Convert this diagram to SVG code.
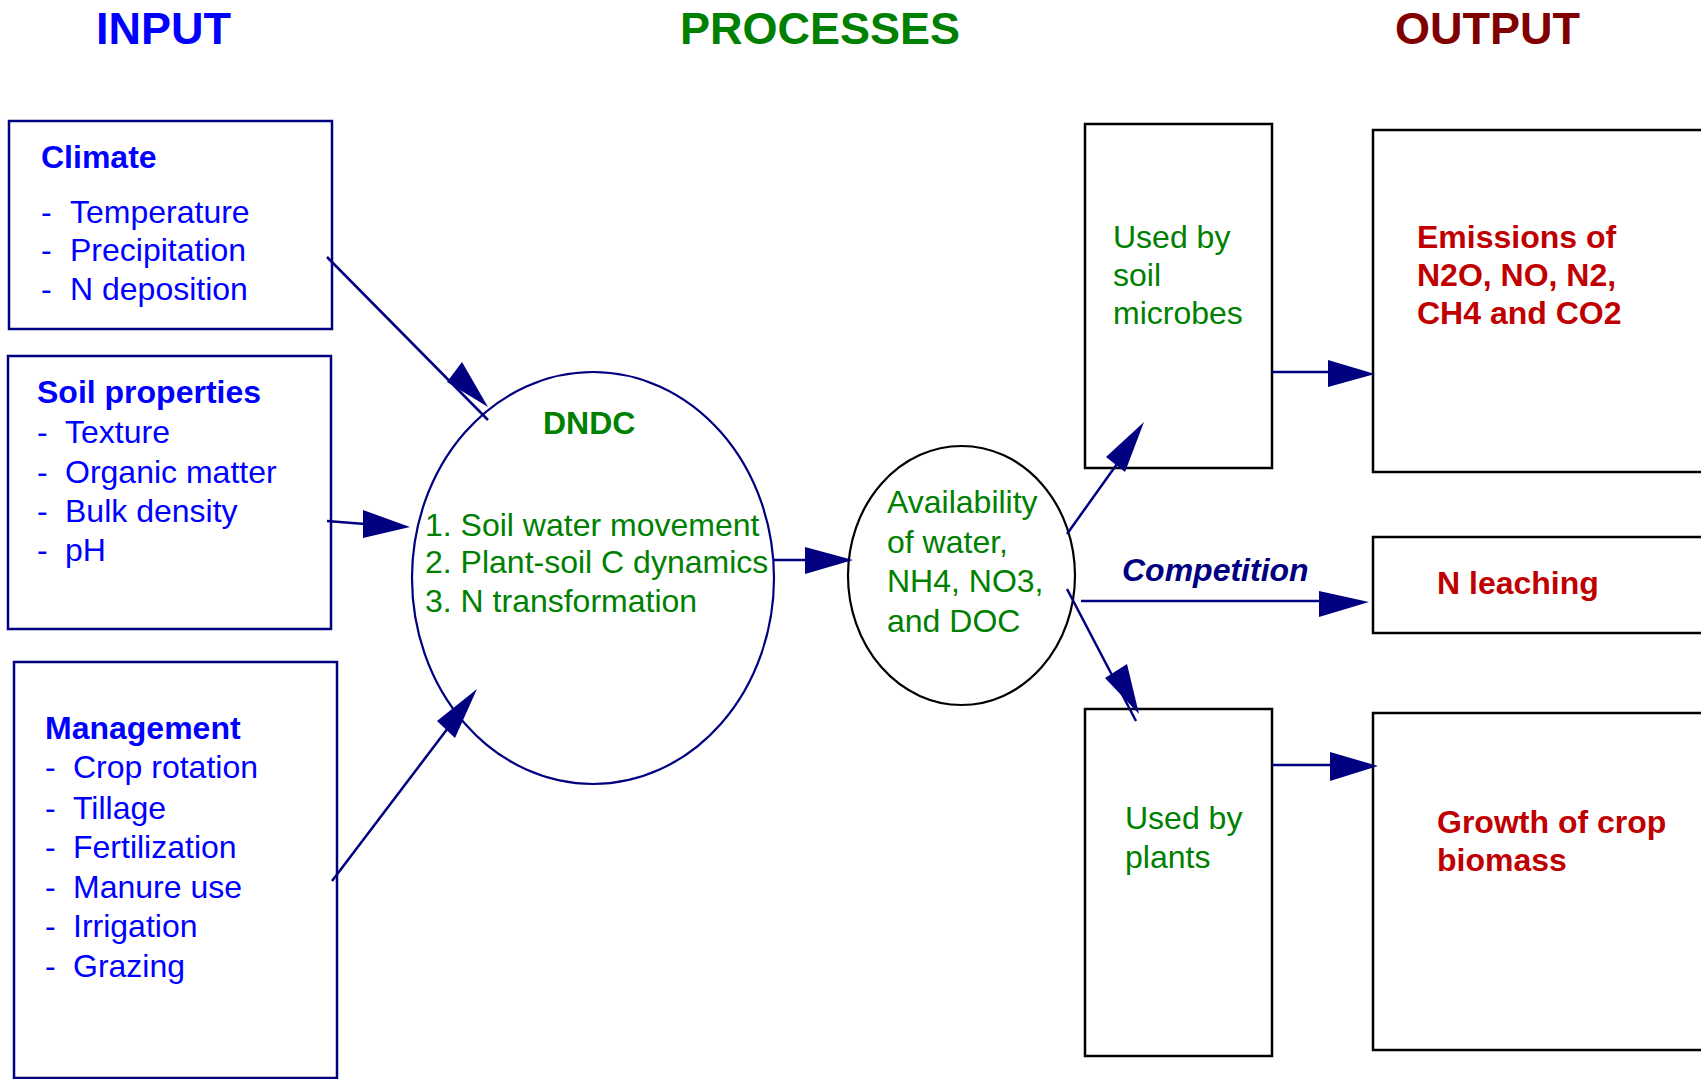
<svg xmlns="http://www.w3.org/2000/svg" width="1701" height="1079" viewBox="0 0 1701 1079">
<style>
text{font-family:"Liberation Sans",Arial,sans-serif;font-size:32px}
.h{font-size:45px;font-weight:bold}
.b{font-weight:bold}
.blue{fill:#0000FF}
.green{fill:#008000}
.red{fill:#C00000}
.navyt{fill:#000080}
.nbox{fill:#fff;stroke:#000080;stroke-width:2.5}
.kbox{fill:#fff;stroke:#000;stroke-width:2.5}
.conn line{stroke:#000080;stroke-width:2.5}
.conn polygon{fill:#000080;stroke:none}
</style>
<rect width="1701" height="1079" fill="#fff"/>
<g id="headers">
<text class="h blue" x="96" y="44">INPUT</text>
<text class="h green" x="680" y="44">PROCESSES</text>
<text class="h" fill="#800000" x="1395" y="44">OUTPUT</text>
</g>
<g id="climate">
<rect class="nbox" x="9" y="121" width="323" height="208"/>
<text class="b blue" x="41" y="168">Climate</text>
<text class="blue" y="223"><tspan x="41">-</tspan><tspan x="70">Temperature</tspan></text>
<text class="blue" y="261"><tspan x="41">-</tspan><tspan x="70">Precipitation</tspan></text>
<text class="blue" y="300"><tspan x="41">-</tspan><tspan x="70">N deposition</tspan></text>
</g>
<g id="soil">
<rect class="nbox" x="8" y="356" width="323" height="273"/>
<text class="b blue" x="37" y="403">Soil properties</text>
<text class="blue" y="443"><tspan x="37">-</tspan><tspan x="65">Texture</tspan></text>
<text class="blue" y="483"><tspan x="37">-</tspan><tspan x="65">Organic matter</tspan></text>
<text class="blue" y="522"><tspan x="37">-</tspan><tspan x="65">Bulk density</tspan></text>
<text class="blue" y="561"><tspan x="37">-</tspan><tspan x="65">pH</tspan></text>
</g>
<g id="management">
<rect class="nbox" x="14" y="662" width="323" height="416"/>
<text class="b blue" x="45" y="739">Management</text>
<text class="blue" y="778"><tspan x="45">-</tspan><tspan x="73">Crop rotation</tspan></text>
<text class="blue" y="819"><tspan x="45">-</tspan><tspan x="73">Tillage</tspan></text>
<text class="blue" y="858"><tspan x="45">-</tspan><tspan x="73">Fertilization</tspan></text>
<text class="blue" y="898"><tspan x="45">-</tspan><tspan x="73">Manure use</tspan></text>
<text class="blue" y="937"><tspan x="45">-</tspan><tspan x="73">Irrigation</tspan></text>
<text class="blue" y="977"><tspan x="45">-</tspan><tspan x="73">Grazing</tspan></text>
</g>
<g id="dndc">
<ellipse cx="593" cy="578" rx="181" ry="206" fill="#fff" stroke="#000080" stroke-width="2.2"/>
<text class="b green" x="543" y="434">DNDC</text>
<text class="green" x="425" y="536">1. Soil water movement</text>
<text class="green" x="425" y="573">2. Plant-soil C dynamics</text>
<text class="green" x="425" y="612">3. N transformation</text>
</g>
<g id="availability">
<ellipse cx="961.5" cy="575.5" rx="113.5" ry="129.5" fill="#fff" stroke="#000" stroke-width="2.2"/>
<text class="green" x="887" y="513">Availability</text>
<text class="green" x="887" y="553">of water,</text>
<text class="green" x="887" y="592">NH4, NO3,</text>
<text class="green" x="887" y="632">and DOC</text>
</g>
<g id="microbes">
<rect class="kbox" x="1085" y="124" width="187" height="344"/>
<text class="green" x="1113" y="248">Used by</text>
<text class="green" x="1113" y="286">soil</text>
<text class="green" x="1113" y="324">microbes</text>
</g>
<g id="plants">
<rect class="kbox" x="1085" y="709" width="187" height="347"/>
<text class="green" x="1125" y="829">Used by</text>
<text class="green" x="1125" y="868">plants</text>
</g>
<g id="emissions">
<rect class="kbox" x="1373" y="130" width="340" height="342"/>
<text class="b red" x="1417" y="248">Emissions of</text>
<text class="b red" x="1417" y="286">N2O, NO, N2,</text>
<text class="b red" x="1417" y="324">CH4 and CO2</text>
</g>
<g id="leaching">
<rect class="kbox" x="1373" y="537" width="340" height="96"/>
<text class="b red" x="1437" y="594">N leaching</text>
</g>
<g id="growth">
<rect class="kbox" x="1373" y="713" width="340" height="337"/>
<text class="b red" x="1437" y="833">Growth of crop</text>
<text class="b red" x="1437" y="871">biomass</text>
</g>
<g id="connectors" class="conn">
<line x1="327" y1="257" x2="488" y2="420"/>
<polygon points="488,407 447,382 462,362"/>
<line x1="327" y1="521" x2="365" y2="524"/>
<polygon points="410,527 363,510 363,538"/>
<line x1="332" y1="881" x2="448" y2="728"/>
<polygon points="477,689 437,721 455,738"/>
<line x1="774" y1="560" x2="807" y2="560"/>
<polygon points="853,560 805,547 805,574"/>
<line x1="1067" y1="534" x2="1117" y2="464"/>
<polygon points="1144,422 1106,457 1125,472"/>
<line x1="1067" y1="589" x2="1136" y2="721"/>
<polygon points="1139,714 1105,678 1127,664"/>
<line x1="1081" y1="601" x2="1322" y2="601"/>
<polygon points="1369,602 1319,591 1319,617"/>
<text class="b navyt" font-style="italic" x="1122" y="581">Competition</text>
<line x1="1272" y1="372" x2="1330" y2="372"/>
<polygon points="1375,374 1328,360 1328,387"/>
<line x1="1272" y1="765" x2="1332" y2="765"/>
<polygon points="1378,766 1330,752 1330,781"/>
</g>
</svg>
